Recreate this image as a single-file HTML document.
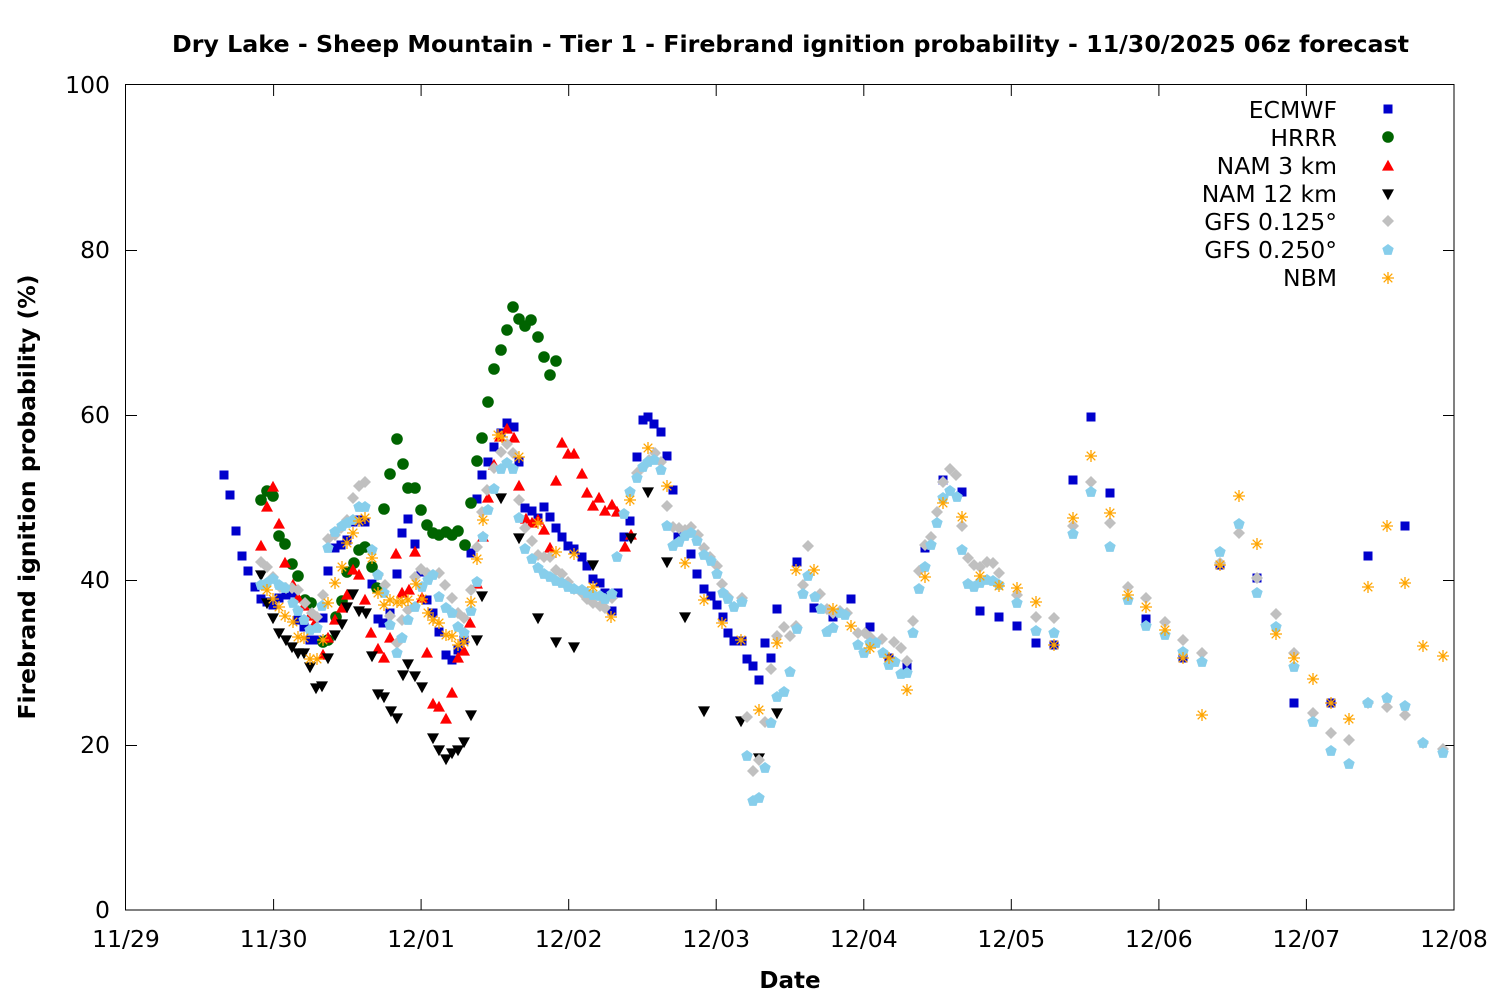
<!DOCTYPE html>
<html><head><meta charset="utf-8"><style>html,body{margin:0;padding:0;background:#fff}svg{display:block}text{font-family:"DejaVu Sans","Liberation Sans",sans-serif;fill:#000}</style></head><body>
<svg xmlns="http://www.w3.org/2000/svg" xmlns:xlink="http://www.w3.org/1999/xlink" width="1500" height="1000" viewBox="0 0 1500 1000">
<defs>
<rect id="s" x="-4.5" y="-4.5" width="9" height="9" fill="#0000cc"/>
<circle id="c" r="5.8" fill="#006400"/>
<path id="t" d="M0,-6.2L6,4.6L-6,4.6Z" fill="#ff0000"/>
<path id="v" d="M0,6.2L6,-4.6L-6,-4.6Z" fill="#000"/>
<path id="d" d="M0,-6L6,0L0,6L-6,0Z" fill="#c0c0c0"/>
<path id="p" d="M0,-6L5.7,-1.85L3.53,4.85L-3.53,4.85L-5.7,-1.85Z" fill="#87ceeb"/>
<g id="a" stroke="#ffa500" stroke-width="1.3"><path d="M-6,0H6M0,-6V6M-4.3,-4.3L4.3,4.3M-4.3,4.3L4.3,-4.3"/></g>
</defs>
<rect width="1500" height="1000" fill="#fff"/>
<text x="790.5" y="52" text-anchor="middle" font-size="23" font-weight="bold" textLength="1237" lengthAdjust="spacingAndGlyphs">Dry Lake - Sheep Mountain - Tier 1 - Firebrand ignition probability - 11/30/2025 06z forecast</text>
<g font-size="23.5" text-anchor="end">
<text x="110" y="93">100</text><text x="110" y="258">80</text><text x="110" y="423">60</text><text x="110" y="588">40</text><text x="110" y="753">20</text><text x="110" y="918">0</text>
</g>
<g font-size="23.5" text-anchor="middle">
<text x="126" y="947">11/29</text><text x="273.6" y="947">11/30</text><text x="421.1" y="947">12/01</text><text x="568.7" y="947">12/02</text><text x="716.2" y="947">12/03</text><text x="863.8" y="947">12/04</text><text x="1011.3" y="947">12/05</text><text x="1158.9" y="947">12/06</text><text x="1306.4" y="947">12/07</text><text x="1454" y="947">12/08</text>
</g>
<text x="790" y="988" text-anchor="middle" font-size="23" font-weight="bold">Date</text>
<text transform="translate(35,497) rotate(-90)" text-anchor="middle" font-size="23" font-weight="bold" textLength="445" lengthAdjust="spacingAndGlyphs">Firebrand ignition probability (%)</text>
<g stroke="#000" stroke-width="1" fill="none">
<rect x="125.5" y="84.5" width="1328.5" height="825.5"/>
<path d="M126,250.5h11M126,415.5h11M126,580.5h11M126,745.5h11M1454,250.5h-11M1454,415.5h-11M1454,580.5h-11M1454,745.5h-11"/>
<path d="M273.6,910v-11M421.1,910v-11M568.7,910v-11M716.2,910v-11M863.8,910v-11M1011.3,910v-11M1158.9,910v-11M1306.4,910v-11M273.6,85v11M421.1,85v11M568.7,85v11M716.2,85v11M863.8,85v11M1011.3,85v11M1158.9,85v11M1306.4,85v11"/>
</g>
<!-- ECMWF -->
<g>
<use href="#s" x="224" y="475"/><use href="#s" x="230" y="495"/><use href="#s" x="236" y="531"/><use href="#s" x="242" y="556"/><use href="#s" x="248" y="571"/><use href="#s" x="255" y="587"/><use href="#s" x="261" y="599"/><use href="#s" x="267" y="602"/><use href="#s" x="273" y="605"/><use href="#s" x="279" y="598"/><use href="#s" x="286" y="595"/><use href="#s" x="292" y="593"/><use href="#s" x="298" y="620"/><use href="#s" x="304" y="627"/><use href="#s" x="310" y="640"/><use href="#s" x="317" y="640"/><use href="#s" x="323" y="618"/><use href="#s" x="328" y="571"/><use href="#s" x="335" y="548"/><use href="#s" x="341" y="545"/><use href="#s" x="347" y="540"/><use href="#s" x="353" y="522"/><use href="#s" x="359" y="520"/><use href="#s" x="365" y="522"/><use href="#s" x="372" y="584"/><use href="#s" x="378" y="619"/><use href="#s" x="383" y="623"/><use href="#s" x="390" y="613"/><use href="#s" x="397" y="574"/><use href="#s" x="402" y="533"/><use href="#s" x="408" y="519"/><use href="#s" x="415" y="544"/><use href="#s" x="421" y="572"/><use href="#s" x="427" y="600"/><use href="#s" x="433" y="613"/><use href="#s" x="439" y="632"/><use href="#s" x="446" y="655"/><use href="#s" x="452" y="660"/><use href="#s" x="458" y="650"/><use href="#s" x="464" y="640"/><use href="#s" x="471" y="553"/><use href="#s" x="477" y="499"/><use href="#s" x="482" y="475"/><use href="#s" x="488" y="462"/><use href="#s" x="494" y="447"/><use href="#s" x="501" y="433"/><use href="#s" x="507" y="423"/><use href="#s" x="514" y="427"/><use href="#s" x="519" y="462"/><use href="#s" x="525" y="508"/><use href="#s" x="532" y="511"/><use href="#s" x="538" y="518"/><use href="#s" x="544" y="507"/><use href="#s" x="550" y="517"/><use href="#s" x="556" y="528"/><use href="#s" x="562" y="537"/><use href="#s" x="568" y="546"/><use href="#s" x="574" y="549"/><use href="#s" x="582" y="557"/><use href="#s" x="587" y="566"/><use href="#s" x="593" y="579"/><use href="#s" x="600" y="583"/><use href="#s" x="605" y="593"/><use href="#s" x="612" y="611"/><use href="#s" x="618" y="593"/><use href="#s" x="624" y="537"/><use href="#s" x="630" y="521"/><use href="#s" x="637" y="457"/><use href="#s" x="643" y="420"/><use href="#s" x="648" y="417"/><use href="#s" x="654" y="424"/><use href="#s" x="661" y="432"/><use href="#s" x="667" y="456"/><use href="#s" x="673" y="490"/><use href="#s" x="678" y="537"/><use href="#s" x="691" y="554"/><use href="#s" x="697" y="574"/><use href="#s" x="704" y="589"/><use href="#s" x="711" y="596"/><use href="#s" x="717" y="605"/><use href="#s" x="723" y="617"/><use href="#s" x="728" y="633"/><use href="#s" x="734" y="641"/><use href="#s" x="742" y="641"/><use href="#s" x="747" y="659"/><use href="#s" x="753" y="666"/><use href="#s" x="759" y="680"/><use href="#s" x="765" y="643"/><use href="#s" x="771" y="658"/><use href="#s" x="777" y="609"/><use href="#s" x="797" y="562"/><use href="#s" x="814" y="608"/><use href="#s" x="833" y="617"/><use href="#s" x="851" y="599"/><use href="#s" x="870" y="627"/><use href="#s" x="889" y="658"/><use href="#s" x="907" y="667"/><use href="#s" x="925" y="548"/><use href="#s" x="943" y="480"/><use href="#s" x="962" y="492"/><use href="#s" x="980" y="611"/><use href="#s" x="999" y="617"/><use href="#s" x="1017" y="626"/><use href="#s" x="1036" y="643"/><use href="#s" x="1054" y="645"/><use href="#s" x="1073" y="480"/><use href="#s" x="1091" y="417"/><use href="#s" x="1110" y="493"/><use href="#s" x="1146" y="619"/><use href="#s" x="1183" y="658"/><use href="#s" x="1220" y="565"/><use href="#s" x="1257" y="578"/><use href="#s" x="1294" y="703"/><use href="#s" x="1331" y="703"/><use href="#s" x="1368" y="556"/><use href="#s" x="1405" y="526"/>
</g>
<!-- HRRR -->
<g>
<use href="#c" x="261" y="500"/><use href="#c" x="267" y="491"/><use href="#c" x="273" y="496"/><use href="#c" x="279" y="536"/><use href="#c" x="285" y="544"/><use href="#c" x="292" y="564"/><use href="#c" x="298" y="576"/><use href="#c" x="305" y="600"/><use href="#c" x="311" y="603"/><use href="#c" x="323" y="642"/><use href="#c" x="328" y="640"/><use href="#c" x="336" y="617"/><use href="#c" x="342" y="601"/><use href="#c" x="347" y="572"/><use href="#c" x="354" y="563"/><use href="#c" x="359" y="550"/><use href="#c" x="365" y="547"/><use href="#c" x="372" y="567"/><use href="#c" x="377" y="588"/><use href="#c" x="384" y="509"/><use href="#c" x="390" y="474"/><use href="#c" x="397" y="439"/><use href="#c" x="403" y="464"/><use href="#c" x="408" y="488"/><use href="#c" x="415" y="488"/><use href="#c" x="421" y="510"/><use href="#c" x="427" y="525"/><use href="#c" x="433" y="533"/><use href="#c" x="439" y="535"/><use href="#c" x="446" y="532"/><use href="#c" x="452" y="535"/><use href="#c" x="458" y="531"/><use href="#c" x="465" y="545"/><use href="#c" x="471" y="503"/><use href="#c" x="477" y="461"/><use href="#c" x="482" y="438"/><use href="#c" x="488" y="402"/><use href="#c" x="494" y="369"/><use href="#c" x="501" y="350"/><use href="#c" x="507" y="330"/><use href="#c" x="513" y="307"/><use href="#c" x="519" y="319"/><use href="#c" x="525" y="326"/><use href="#c" x="531" y="320"/><use href="#c" x="538" y="337"/><use href="#c" x="544" y="357"/><use href="#c" x="550" y="375"/><use href="#c" x="556" y="361"/>
</g>
<!-- NAM 3 km -->
<g>
<use href="#t" x="261" y="546"/><use href="#t" x="267" y="507"/><use href="#t" x="273" y="487"/><use href="#t" x="279" y="524"/><use href="#t" x="285" y="563"/><use href="#t" x="293" y="585"/><use href="#t" x="298" y="598"/><use href="#t" x="304" y="606"/><use href="#t" x="310" y="616"/><use href="#t" x="315" y="623"/><use href="#t" x="323" y="655"/><use href="#t" x="328" y="638"/><use href="#t" x="335" y="620"/><use href="#t" x="342" y="608"/><use href="#t" x="347" y="595"/><use href="#t" x="353" y="570"/><use href="#t" x="359" y="575"/><use href="#t" x="365" y="600"/><use href="#t" x="371" y="633"/><use href="#t" x="378" y="649"/><use href="#t" x="384" y="658"/><use href="#t" x="390" y="638"/><use href="#t" x="396" y="554"/><use href="#t" x="402" y="593"/><use href="#t" x="409" y="590"/><use href="#t" x="415" y="552"/><use href="#t" x="422" y="598"/><use href="#t" x="427" y="653"/><use href="#t" x="433" y="704"/><use href="#t" x="439" y="707"/><use href="#t" x="446" y="719"/><use href="#t" x="452" y="693"/><use href="#t" x="458" y="658"/><use href="#t" x="464" y="651"/><use href="#t" x="470" y="623"/><use href="#t" x="477" y="584"/><use href="#t" x="483" y="537"/><use href="#t" x="488" y="498"/><use href="#t" x="494" y="465"/><use href="#t" x="500" y="437"/><use href="#t" x="507" y="429"/><use href="#t" x="514" y="438"/><use href="#t" x="519" y="486"/><use href="#t" x="526" y="519"/><use href="#t" x="532" y="523"/><use href="#t" x="538" y="520"/><use href="#t" x="544" y="530"/><use href="#t" x="550" y="548"/><use href="#t" x="556" y="481"/><use href="#t" x="562" y="443"/><use href="#t" x="568" y="454"/><use href="#t" x="574" y="454"/><use href="#t" x="582" y="474"/><use href="#t" x="587" y="493"/><use href="#t" x="593" y="506"/><use href="#t" x="599" y="498"/><use href="#t" x="605" y="511"/><use href="#t" x="612" y="505"/><use href="#t" x="617" y="512"/><use href="#t" x="625" y="547"/><use href="#t" x="631" y="535"/>
</g>
<!-- NAM 12 km -->
<g>
<use href="#v" x="261" y="575"/><use href="#v" x="267" y="603"/><use href="#v" x="273" y="618"/><use href="#v" x="279" y="633"/><use href="#v" x="286" y="640"/><use href="#v" x="292" y="647"/><use href="#v" x="298" y="653"/><use href="#v" x="304" y="653"/><use href="#v" x="310" y="667"/><use href="#v" x="316" y="688"/><use href="#v" x="322" y="686"/><use href="#v" x="328" y="658"/><use href="#v" x="335" y="635"/><use href="#v" x="342" y="624"/><use href="#v" x="347" y="607"/><use href="#v" x="353" y="594"/><use href="#v" x="359" y="611"/><use href="#v" x="366" y="613"/><use href="#v" x="372" y="656"/><use href="#v" x="378" y="694"/><use href="#v" x="384" y="697"/><use href="#v" x="391" y="711"/><use href="#v" x="397" y="718"/><use href="#v" x="403" y="675"/><use href="#v" x="408" y="664"/><use href="#v" x="415" y="676"/><use href="#v" x="422" y="687"/><use href="#v" x="433" y="738"/><use href="#v" x="439" y="750"/><use href="#v" x="446" y="759"/><use href="#v" x="452" y="753"/><use href="#v" x="458" y="750"/><use href="#v" x="464" y="742"/><use href="#v" x="471" y="715"/><use href="#v" x="477" y="640"/><use href="#v" x="482" y="596"/><use href="#v" x="501" y="498"/><use href="#v" x="519" y="538"/><use href="#v" x="538" y="618"/><use href="#v" x="556" y="642"/><use href="#v" x="574" y="647"/><use href="#v" x="593" y="565"/><use href="#v" x="631" y="538"/><use href="#v" x="648" y="492"/><use href="#v" x="667" y="562"/><use href="#v" x="685" y="617"/><use href="#v" x="704" y="711"/><use href="#v" x="741" y="721"/><use href="#v" x="759" y="758"/><use href="#v" x="777" y="713"/>
</g>
<!-- GFS 0.125 -->
<g>
<use href="#d" x="261" y="562"/><use href="#d" x="267" y="567"/><use href="#d" x="273" y="577"/><use href="#d" x="280" y="587"/><use href="#d" x="286" y="588"/><use href="#d" x="292" y="588"/><use href="#d" x="298" y="590"/><use href="#d" x="305" y="603"/><use href="#d" x="312" y="613"/><use href="#d" x="317" y="617"/><use href="#d" x="323" y="595"/><use href="#d" x="328" y="539"/><use href="#d" x="335" y="535"/><use href="#d" x="341" y="528"/><use href="#d" x="347" y="520"/><use href="#d" x="353" y="498"/><use href="#d" x="359" y="486"/><use href="#d" x="365" y="482"/><use href="#d" x="378" y="575"/><use href="#d" x="385" y="585"/><use href="#d" x="390" y="616"/><use href="#d" x="397" y="643"/><use href="#d" x="402" y="620"/><use href="#d" x="408" y="610"/><use href="#d" x="415" y="577"/><use href="#d" x="421" y="569"/><use href="#d" x="427" y="573"/><use href="#d" x="439" y="573"/><use href="#d" x="445" y="585"/><use href="#d" x="452" y="598"/><use href="#d" x="458" y="613"/><use href="#d" x="464" y="618"/><use href="#d" x="471" y="590"/><use href="#d" x="477" y="547"/><use href="#d" x="482" y="512"/><use href="#d" x="487" y="490"/><use href="#d" x="494" y="468"/><use href="#d" x="501" y="452"/><use href="#d" x="507" y="444"/><use href="#d" x="513" y="453"/><use href="#d" x="519" y="500"/><use href="#d" x="525" y="528"/><use href="#d" x="532" y="541"/><use href="#d" x="538" y="555"/><use href="#d" x="544" y="557"/><use href="#d" x="550" y="557"/><use href="#d" x="556" y="570"/><use href="#d" x="562" y="574"/><use href="#d" x="568" y="582"/><use href="#d" x="574" y="589"/><use href="#d" x="582" y="593"/><use href="#d" x="587" y="599"/><use href="#d" x="593" y="603"/><use href="#d" x="600" y="606"/><use href="#d" x="605" y="608"/><use href="#d" x="612" y="598"/><use href="#d" x="637" y="473"/><use href="#d" x="643" y="467"/><use href="#d" x="649" y="460"/><use href="#d" x="655" y="453"/><use href="#d" x="661" y="462"/><use href="#d" x="667" y="506"/><use href="#d" x="673" y="527"/><use href="#d" x="679" y="528"/><use href="#d" x="685" y="530"/><use href="#d" x="691" y="527"/><use href="#d" x="698" y="535"/><use href="#d" x="704" y="548"/><use href="#d" x="710" y="557"/><use href="#d" x="717" y="566"/><use href="#d" x="722" y="584"/><use href="#d" x="728" y="597"/><use href="#d" x="742" y="598"/><use href="#d" x="747" y="717"/><use href="#d" x="753" y="771"/><use href="#d" x="759" y="760"/><use href="#d" x="765" y="722"/><use href="#d" x="771" y="669"/><use href="#d" x="777" y="636"/><use href="#d" x="784" y="627"/><use href="#d" x="790" y="636"/><use href="#d" x="796" y="626"/><use href="#d" x="803" y="585"/><use href="#d" x="808" y="546"/><use href="#d" x="820" y="594"/><use href="#d" x="827" y="609"/><use href="#d" x="833" y="613"/><use href="#d" x="840" y="611"/><use href="#d" x="847" y="613"/><use href="#d" x="858" y="633"/><use href="#d" x="865" y="633"/><use href="#d" x="870" y="637"/><use href="#d" x="882" y="639"/><use href="#d" x="894" y="642"/><use href="#d" x="901" y="648"/><use href="#d" x="907" y="661"/><use href="#d" x="913" y="621"/><use href="#d" x="919" y="571"/><use href="#d" x="925" y="545"/><use href="#d" x="931" y="537"/><use href="#d" x="937" y="512"/><use href="#d" x="943" y="482"/><use href="#d" x="950" y="469"/><use href="#d" x="956" y="475"/><use href="#d" x="962" y="526"/><use href="#d" x="968" y="558"/><use href="#d" x="974" y="565"/><use href="#d" x="980" y="567"/><use href="#d" x="987" y="562"/><use href="#d" x="993" y="563"/><use href="#d" x="999" y="573"/><use href="#d" x="1017" y="595"/><use href="#d" x="1036" y="617"/><use href="#d" x="1054" y="618"/><use href="#d" x="1073" y="526"/><use href="#d" x="1091" y="482"/><use href="#d" x="1110" y="523"/><use href="#d" x="1128" y="587"/><use href="#d" x="1146" y="598"/><use href="#d" x="1165" y="622"/><use href="#d" x="1183" y="640"/><use href="#d" x="1202" y="653"/><use href="#d" x="1220" y="563"/><use href="#d" x="1239" y="533"/><use href="#d" x="1257" y="578"/><use href="#d" x="1276" y="614"/><use href="#d" x="1294" y="653"/><use href="#d" x="1313" y="713"/><use href="#d" x="1331" y="733"/><use href="#d" x="1349" y="740"/><use href="#d" x="1368" y="703"/><use href="#d" x="1387" y="707"/><use href="#d" x="1405" y="715"/><use href="#d" x="1423" y="743"/><use href="#d" x="1443" y="749"/>
</g>
<!-- GFS 0.250 -->
<g>
<use href="#p" x="261" y="585"/><use href="#p" x="267" y="583"/><use href="#p" x="273" y="579"/><use href="#p" x="279" y="585"/><use href="#p" x="285" y="588"/><use href="#p" x="293" y="603"/><use href="#p" x="298" y="611"/><use href="#p" x="304" y="620"/><use href="#p" x="310" y="630"/><use href="#p" x="317" y="628"/><use href="#p" x="322" y="606"/><use href="#p" x="328" y="548"/><use href="#p" x="335" y="532"/><use href="#p" x="342" y="526"/><use href="#p" x="347" y="523"/><use href="#p" x="353" y="520"/><use href="#p" x="359" y="507"/><use href="#p" x="365" y="507"/><use href="#p" x="372" y="550"/><use href="#p" x="378" y="575"/><use href="#p" x="384" y="593"/><use href="#p" x="390" y="625"/><use href="#p" x="397" y="653"/><use href="#p" x="402" y="638"/><use href="#p" x="408" y="620"/><use href="#p" x="415" y="607"/><use href="#p" x="422" y="587"/><use href="#p" x="428" y="580"/><use href="#p" x="433" y="575"/><use href="#p" x="439" y="597"/><use href="#p" x="446" y="608"/><use href="#p" x="452" y="613"/><use href="#p" x="458" y="627"/><use href="#p" x="464" y="633"/><use href="#p" x="471" y="611"/><use href="#p" x="477" y="582"/><use href="#p" x="483" y="537"/><use href="#p" x="488" y="510"/><use href="#p" x="494" y="489"/><use href="#p" x="501" y="469"/><use href="#p" x="507" y="463"/><use href="#p" x="513" y="469"/><use href="#p" x="519" y="518"/><use href="#p" x="525" y="549"/><use href="#p" x="532" y="559"/><use href="#p" x="538" y="568"/><use href="#p" x="544" y="574"/><use href="#p" x="550" y="577"/><use href="#p" x="556" y="581"/><use href="#p" x="562" y="583"/><use href="#p" x="568" y="587"/><use href="#p" x="574" y="589"/><use href="#p" x="582" y="590"/><use href="#p" x="587" y="593"/><use href="#p" x="593" y="595"/><use href="#p" x="600" y="596"/><use href="#p" x="605" y="599"/><use href="#p" x="612" y="594"/><use href="#p" x="617" y="557"/><use href="#p" x="624" y="514"/><use href="#p" x="630" y="492"/><use href="#p" x="637" y="478"/><use href="#p" x="643" y="467"/><use href="#p" x="648" y="462"/><use href="#p" x="654" y="460"/><use href="#p" x="661" y="470"/><use href="#p" x="667" y="526"/><use href="#p" x="673" y="546"/><use href="#p" x="679" y="542"/><use href="#p" x="685" y="536"/><use href="#p" x="691" y="533"/><use href="#p" x="697" y="541"/><use href="#p" x="704" y="555"/><use href="#p" x="711" y="561"/><use href="#p" x="717" y="574"/><use href="#p" x="723" y="593"/><use href="#p" x="728" y="599"/><use href="#p" x="734" y="607"/><use href="#p" x="742" y="602"/><use href="#p" x="747" y="756"/><use href="#p" x="753" y="801"/><use href="#p" x="759" y="798"/><use href="#p" x="765" y="768"/><use href="#p" x="771" y="723"/><use href="#p" x="777" y="697"/><use href="#p" x="784" y="692"/><use href="#p" x="790" y="672"/><use href="#p" x="797" y="629"/><use href="#p" x="803" y="594"/><use href="#p" x="808" y="576"/><use href="#p" x="815" y="597"/><use href="#p" x="821" y="609"/><use href="#p" x="827" y="632"/><use href="#p" x="833" y="628"/><use href="#p" x="840" y="613"/><use href="#p" x="845" y="615"/><use href="#p" x="858" y="645"/><use href="#p" x="864" y="653"/><use href="#p" x="870" y="643"/><use href="#p" x="876" y="643"/><use href="#p" x="883" y="653"/><use href="#p" x="889" y="665"/><use href="#p" x="895" y="662"/><use href="#p" x="901" y="674"/><use href="#p" x="907" y="673"/><use href="#p" x="913" y="633"/><use href="#p" x="919" y="589"/><use href="#p" x="925" y="567"/><use href="#p" x="931" y="545"/><use href="#p" x="937" y="523"/><use href="#p" x="943" y="498"/><use href="#p" x="950" y="491"/><use href="#p" x="957" y="497"/><use href="#p" x="962" y="550"/><use href="#p" x="968" y="584"/><use href="#p" x="974" y="587"/><use href="#p" x="980" y="583"/><use href="#p" x="987" y="580"/><use href="#p" x="993" y="581"/><use href="#p" x="999" y="585"/><use href="#p" x="1017" y="603"/><use href="#p" x="1036" y="631"/><use href="#p" x="1054" y="633"/><use href="#p" x="1073" y="534"/><use href="#p" x="1091" y="492"/><use href="#p" x="1110" y="547"/><use href="#p" x="1128" y="600"/><use href="#p" x="1146" y="626"/><use href="#p" x="1165" y="635"/><use href="#p" x="1183" y="652"/><use href="#p" x="1202" y="662"/><use href="#p" x="1220" y="552"/><use href="#p" x="1239" y="524"/><use href="#p" x="1257" y="593"/><use href="#p" x="1276" y="627"/><use href="#p" x="1294" y="667"/><use href="#p" x="1313" y="722"/><use href="#p" x="1331" y="751"/><use href="#p" x="1349" y="764"/><use href="#p" x="1368" y="703"/><use href="#p" x="1387" y="698"/><use href="#p" x="1405" y="706"/><use href="#p" x="1423" y="743"/><use href="#p" x="1443" y="753"/>
</g>
<!-- NBM -->
<g>
<use href="#a" x="267" y="590"/><use href="#a" x="273" y="599"/><use href="#a" x="279" y="607"/><use href="#a" x="285" y="616"/><use href="#a" x="293" y="622"/><use href="#a" x="298" y="637"/><use href="#a" x="304" y="638"/><use href="#a" x="310" y="659"/><use href="#a" x="317" y="659"/><use href="#a" x="323" y="640"/><use href="#a" x="328" y="603"/><use href="#a" x="335" y="583"/><use href="#a" x="342" y="567"/><use href="#a" x="347" y="543"/><use href="#a" x="353" y="533"/><use href="#a" x="359" y="521"/><use href="#a" x="365" y="518"/><use href="#a" x="372" y="558"/><use href="#a" x="378" y="593"/><use href="#a" x="384" y="605"/><use href="#a" x="390" y="600"/><use href="#a" x="397" y="602"/><use href="#a" x="402" y="602"/><use href="#a" x="408" y="600"/><use href="#a" x="416" y="584"/><use href="#a" x="422" y="599"/><use href="#a" x="428" y="613"/><use href="#a" x="433" y="620"/><use href="#a" x="439" y="623"/><use href="#a" x="446" y="635"/><use href="#a" x="452" y="636"/><use href="#a" x="458" y="645"/><use href="#a" x="464" y="642"/><use href="#a" x="471" y="602"/><use href="#a" x="477" y="559"/><use href="#a" x="483" y="520"/><use href="#a" x="498" y="435"/><use href="#a" x="502" y="437"/><use href="#a" x="519" y="457"/><use href="#a" x="538" y="523"/><use href="#a" x="556" y="552"/><use href="#a" x="574" y="554"/><use href="#a" x="593" y="587"/><use href="#a" x="611" y="617"/><use href="#a" x="630" y="500"/><use href="#a" x="648" y="448"/><use href="#a" x="667" y="486"/><use href="#a" x="685" y="563"/><use href="#a" x="704" y="600"/><use href="#a" x="722" y="623"/><use href="#a" x="741" y="640"/><use href="#a" x="759" y="710"/><use href="#a" x="777" y="643"/><use href="#a" x="796" y="570"/><use href="#a" x="814" y="570"/><use href="#a" x="833" y="609"/><use href="#a" x="851" y="626"/><use href="#a" x="870" y="648"/><use href="#a" x="889" y="658"/><use href="#a" x="907" y="690"/><use href="#a" x="925" y="577"/><use href="#a" x="943" y="503"/><use href="#a" x="962" y="517"/><use href="#a" x="980" y="576"/><use href="#a" x="999" y="586"/><use href="#a" x="1017" y="588"/><use href="#a" x="1036" y="602"/><use href="#a" x="1054" y="645"/><use href="#a" x="1073" y="518"/><use href="#a" x="1091" y="456"/><use href="#a" x="1110" y="513"/><use href="#a" x="1128" y="595"/><use href="#a" x="1146" y="607"/><use href="#a" x="1165" y="630"/><use href="#a" x="1183" y="658"/><use href="#a" x="1202" y="715"/><use href="#a" x="1220" y="565"/><use href="#a" x="1239" y="496"/><use href="#a" x="1257" y="544"/><use href="#a" x="1276" y="634"/><use href="#a" x="1294" y="658"/><use href="#a" x="1313" y="679"/><use href="#a" x="1331" y="703"/><use href="#a" x="1349" y="719"/><use href="#a" x="1368" y="587"/><use href="#a" x="1387" y="526"/><use href="#a" x="1405" y="583"/><use href="#a" x="1423" y="646"/><use href="#a" x="1443" y="656"/>
</g>
<!-- Legend -->
<g font-size="23.5" text-anchor="end">
<text x="1337" y="118">ECMWF</text><text x="1337" y="146">HRRR</text><text x="1337" y="174">NAM 3 km</text><text x="1337" y="202">NAM 12 km</text><text x="1337" y="230">GFS 0.125°</text><text x="1337" y="258">GFS 0.250°</text><text x="1337" y="286">NBM</text>
</g>
<use href="#s" x="1388" y="109"/><use href="#c" x="1388" y="137"/><use href="#t" x="1388" y="166"/><use href="#v" x="1388" y="194"/><use href="#d" x="1388" y="221"/><use href="#p" x="1388" y="250"/><use href="#a" x="1388" y="278"/>
</svg>
</body></html>
